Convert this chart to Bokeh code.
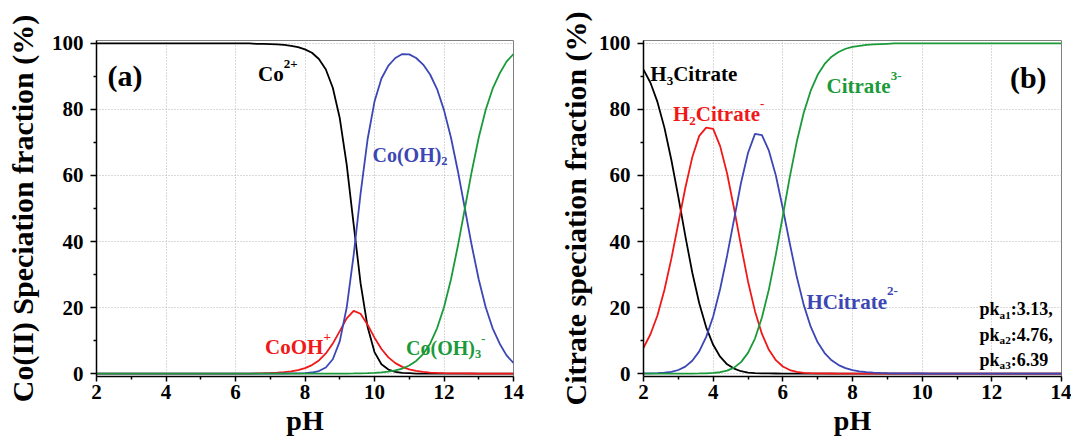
from bokeh.plotting import figure
from bokeh.models import Range1d, Label, FixedTicker
from bokeh.layouts import row
from bokeh.embed import file_html
from bokeh.resources import INLINE

# ---------------- data ----------------
PH = [2.0, 2.2, 2.4, 2.6, 2.8, 3.0, 3.2, 3.4, 3.6, 3.8,
      4.0, 4.2, 4.4, 4.6, 4.8, 5.0, 5.2, 5.4, 5.6, 5.8,
      6.0, 6.2, 6.4, 6.6, 6.8, 7.0, 7.2, 7.4, 7.6, 7.8,
      8.0, 8.2, 8.4, 8.6, 8.8, 9.0, 9.2, 9.4, 9.6, 9.8,
      10.0, 10.2, 10.4, 10.6, 10.8, 11.0, 11.2, 11.4, 11.6, 11.8,
      12.0, 12.2, 12.4, 12.6, 12.8, 13.0, 13.2, 13.4, 13.6, 13.8,
      14.0]

# panel (a): Co(II) species, %
CO_2PLUS = [100, 100, 100, 100, 100, 100, 100, 100, 100, 100,
            100, 100, 100, 100, 100, 100, 100, 100, 100, 100,
            100, 100, 100, 99.9, 99.9, 99.8, 99.7, 99.6, 99.3, 98.9,
            98.2, 97.2, 95.3, 92.1, 86.6, 77.4, 63.3, 45.2, 27.3, 14.2,
            6.5, 2.8, 1.2, 0.5, 0.2, 0.1, 0, 0, 0, 0,
            0, 0, 0, 0, 0, 0, 0, 0, 0, 0,
            0]
COOH_PLUS = [0, 0, 0, 0, 0, 0, 0, 0, 0, 0,
             0, 0, 0, 0, 0, 0, 0, 0, 0, 0,
             0, 0, 0, 0.07, 0.1, 0.17, 0.26, 0.42, 0.66, 1.04,
             1.63, 2.56, 3.97, 6.08, 9.07, 12.85, 16.7, 19.0, 18.1, 14.8,
             10.86, 7.43, 4.9, 3.16, 2.01, 1.27, 0.79, 0.49, 0.3, 0.18,
             0.1, 0.06, 0.04, 0.02, 0.01, 0, 0, 0, 0, 0,
             0]
CO_OH_2 = [0, 0, 0, 0, 0, 0, 0, 0, 0, 0,
           0, 0, 0, 0, 0, 0, 0, 0, 0, 0,
           0, 0, 0, 0, 0, 0, 0, 0.01, 0.02, 0.05,
           0.12, 0.31, 0.76, 1.84, 4.34, 9.75, 20.0, 35.9, 54.6, 70.9,
           82.4, 89.4, 93.3, 95.6, 96.8, 96.7, 95.6, 93.6, 90.6, 86.2,
           79.8, 71.5, 61.3, 50.0, 38.7, 28.5, 20.1, 13.7, 9.1, 5.5,
           3.2]
CO_OH_3 = [0, 0, 0, 0, 0, 0, 0, 0, 0, 0,
           0, 0, 0, 0, 0, 0, 0, 0, 0, 0,
           0, 0, 0, 0, 0, 0, 0, 0, 0, 0,
           0, 0, 0, 0, 0, 0, 0, 0.02, 0.05, 0.1,
           0.2, 0.36, 0.59, 0.95, 1.52, 2.42, 3.8, 5.9, 9.06, 13.7,
           20.1, 28.5, 38.7, 50.0, 61.3, 71.5, 79.9, 86.3, 90.9, 94.5,
           96.8]

# panel (b): citrate species, %
H3_CIT = [92.1, 88.1, 82.3, 74.5, 64.7, 53.5, 41.7, 30.6, 21.3, 14.0,
          8.7, 5.1, 2.8, 1.5, 0.7, 0.3, 0.14, 0.06, 0.02, 0.01,
          0, 0, 0, 0, 0, 0, 0, 0, 0, 0,
          0, 0, 0, 0, 0, 0, 0, 0, 0, 0,
          0, 0, 0, 0, 0, 0, 0, 0, 0, 0,
          0, 0, 0, 0, 0, 0, 0, 0, 0, 0,
          0]
H2_CIT = [7.8, 11.9, 17.6, 25.3, 34.8, 45.5, 56.2, 65.5, 72.0, 74.5,
          74.1, 68.9, 60.6, 50.0, 38.7, 27.9, 18.9, 12.0, 7.2, 4.05,
          2.13, 1.06, 0.5, 0.22, 0.1, 0.04, 0.02, 0.01, 0, 0,
          0, 0, 0, 0, 0, 0, 0, 0, 0, 0,
          0, 0, 0, 0, 0, 0, 0, 0, 0, 0,
          0, 0, 0, 0, 0, 0, 0, 0, 0, 0,
          0]
H_CIT = [0.02, 0.04, 0.1, 0.24, 0.51, 1.07, 2.09, 3.86, 6.72, 11.1,
         17.3, 25.6, 35.7, 46.7, 57.8, 66.8, 72.6, 72.2, 67.5, 60.0,
         50.0, 39.4, 29.3, 20.8, 14.2, 9.47, 6.2, 4.0, 2.56, 1.63,
         1.04, 0.66, 0.42, 0.26, 0.17, 0.1, 0.07, 0.04, 0.03, 0.02,
         0.01, 0, 0, 0, 0, 0, 0, 0, 0, 0,
         0, 0, 0, 0, 0, 0, 0, 0, 0, 0,
         0]
CIT = [0, 0, 0, 0, 0, 0, 0, 0, 0.03, 0.07,
       0.17, 0.39, 0.86, 1.78, 3.45, 6.25, 10.6, 17.0, 25.5, 36.1,
       47.8, 59.6, 70.2, 79.0, 85.7, 90.5, 93.8, 96.0, 97.4, 98.4,
       99.0, 99.3, 99.6, 99.7, 99.8, 99.9, 100, 100, 100, 100,
       100, 100, 100, 100, 100, 100, 100, 100, 100, 100,
       100, 100, 100, 100, 100, 100, 100, 100, 100, 100,
       100]

X_TICKS = [2, 4, 6, 8, 10, 12, 14]
X_MINOR = [3, 5, 7, 9, 11, 13]
Y_TICKS = [0, 20, 40, 60, 80, 100]
Y_MINOR = [10, 30, 50, 70, 90]

for arr in (CO_2PLUS, COOH_PLUS, CO_OH_2, CO_OH_3, H3_CIT, H2_CIT, H_CIT, CIT):
    assert len(arr) == len(PH)

# ---------------- style ----------------
FONT = "Liberation Serif"
BLACK = "#000000"
RED = "#f01818"
BLUE = "#3c46b4"
GREEN = "#1b9a3a"
PXU = 3.3  # px per y unit (frame 336 px over 101.8 units)

# Times/Liberation Serif Bold advance widths (em)
WID = {"C": .722, "o": .5, "(": .333, ")": .333, "O": .778, "H": .778,
       "i": .278, "t": .333, "r": .444, "a": .5, "e": .444, "p": .556,
       "k": .556, ":": .333, " ": .25, ".": .25, ",": .25, "-": .333,
       "+": .570}


def tw(s, fs):
    return sum(WID.get(c, 0.5) for c in s) * fs


def chem(p, x, y, parts, color, fs):
    off = 0.0
    for txt, kind in parts:
        if kind == "n":
            size, dy = fs, 0.0
        elif kind == "sub":
            size, dy = fs * 0.62, -0.3 * fs
        else:
            size, dy = fs * 0.62, 0.48 * fs
        p.add_layout(Label(x=x, y=y + dy / PXU, x_offset=off, text=txt,
                           text_font=FONT, text_font_style="bold",
                           text_font_size=f"{size:.1f}px", text_color=color,
                           text_baseline="alphabetic", text_align="left"))
        off += tw(txt, size)


def make_fig(width, left, right, ylabel, ylabel_standoff):
    p = figure(width=width, height=444, output_backend="svg", toolbar_location=None,
               x_range=Range1d(2, 14), y_range=Range1d(-0.9, 100.9),
               min_border_left=left, min_border_right=right,
               min_border_top=40, min_border_bottom=68)
    p.background_fill_color = "white"
    p.border_fill_color = "white"
    p.outline_line_color = "#808080"
    p.outline_line_width = 1
    p.xaxis.ticker = FixedTicker(ticks=X_TICKS, minor_ticks=X_MINOR)
    p.yaxis.ticker = FixedTicker(ticks=Y_TICKS, minor_ticks=Y_MINOR)
    for ax in (p.xaxis[0], p.yaxis[0]):
        ax.axis_line_color = BLACK
        ax.axis_line_width = 1.5
        ax.major_tick_line_color = BLACK
        ax.major_tick_line_width = 1.5
        ax.minor_tick_line_color = BLACK
        ax.minor_tick_line_width = 1.5
        ax.major_tick_in = 0
        ax.minor_tick_in = 0
        ax.major_label_text_font = FONT
        ax.major_label_text_font_style = "bold"
        ax.major_label_text_font_size = "21px"
        ax.major_label_text_color = BLACK
        ax.axis_label_text_font = FONT
        ax.axis_label_text_font_style = "bold"
        ax.axis_label_text_color = BLACK
    p.xaxis.major_tick_out = 5
    p.xaxis.minor_tick_out = 3
    p.yaxis.major_tick_out = 6
    p.yaxis.minor_tick_out = 3
    p.xaxis.major_label_standoff = 3
    p.yaxis.major_label_standoff = 7
    p.xaxis.axis_label = "pH"
    p.xaxis.axis_label_text_font_size = "28px"
    p.xaxis.axis_label_standoff = 3
    p.yaxis.axis_label = ylabel
    p.yaxis.axis_label_text_font_size = "30px"
    p.yaxis.axis_label_standoff = ylabel_standoff
    for g in (p.xgrid[0], p.ygrid[0]):
        g.grid_line_color = "#b4b4b4"
        g.grid_line_dash = "1 2"
        g.grid_line_width = 1
    return p


# ---------------- panel (a) ----------------
pa = make_fig(540, 96, 27, "Co(II) Speciation fraction (%)", 10)
pa.line(PH, CO_2PLUS, line_color=BLACK, line_width=1.8)
pa.line(PH, COOH_PLUS, line_color=RED, line_width=1.8)
pa.line(PH, CO_OH_2, line_color=BLUE, line_width=1.8)
pa.line(PH, CO_OH_3, line_color=GREEN, line_width=1.8)

chem(pa, 2.317, 90.2, [("(a)", "n")], BLACK, 30)
chem(pa, 6.647, 90.6, [("Co", "n"), ("2+", "sup")], BLACK, 21)
chem(pa, 9.942, 66.1, [("Co(OH)", "n"), ("2", "sub")], BLUE, 20)
chem(pa, 6.852, 7.9, [("CoOH", "n"), ("+", "sup")], RED, 21)
chem(pa, 10.909, 7.6, [("Co(OH)", "n"), ("3", "sub"), ("-", "sup")], GREEN, 20)

# ---------------- panel (b) ----------------
pb = make_fig(531, 103, 10, "Citrate speciation fraction (%)", 4)
pb.line(PH, H3_CIT, line_color=BLACK, line_width=1.8)
pb.line(PH, H2_CIT, line_color=RED, line_width=1.8)
pb.line(PH, H_CIT, line_color=BLUE, line_width=1.8)
pb.line(PH, CIT, line_color=GREEN, line_width=1.8)

chem(pb, 2.195, 90.6, [("H", "n"), ("3", "sub"), ("Citrate", "n")], BLACK, 21)
chem(pb, 2.847, 78.5, [("H", "n"), ("2", "sub"), ("Citrate", "n"), ("-", "sup")], RED, 21)
chem(pb, 7.254, 87.0, [("Citrate", "n"), ("3-", "sup")], GREEN, 21)
chem(pb, 6.680, 21.8, [("HCitrate", "n"), ("2-", "sup")], BLUE, 21)
chem(pb, 12.52, 89.8, [("(b)", "n")], BLACK, 30)
chem(pb, 11.647, 19.4, [("pk", "n"), ("a1", "sub"), (":3.13,", "n")], BLACK, 18)
chem(pb, 11.647, 11.8, [("pk", "n"), ("a2", "sub"), (":4.76,", "n")], BLACK, 18)
chem(pb, 11.647, 4.2, [("pk", "n"), ("a3", "sub"), (":6.39", "n")], BLACK, 18)

layout = row(pa, pb)
open("out.html", "w").write(file_html(layout, INLINE))
